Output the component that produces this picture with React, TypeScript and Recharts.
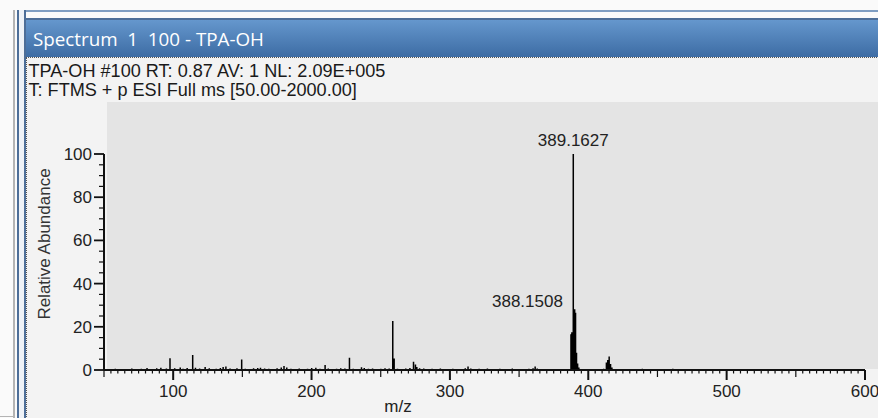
import React from 'react';
import { LineChart, Line, XAxis, YAxis, LabelList } from 'recharts';

const titleText = 'Spectrum  1  100 - TPA-OH';
const headerLines = [
  'TPA-OH #100 RT: 0.87 AV: 1 NL: 2.09E+005',
  'T: FTMS + p ESI Full ms [50.00-2000.00]',
];
const xAxisTitle = 'm/z';
const yAxisTitle = 'Relative Abundance';

const xMajorTicks = [100, 200, 300, 400, 500, 600];
const yMajorTicks = [0, 20, 40, 60, 80, 100];
const labeledPeaks = ['389.1627', '388.1508'];

// m/z of centroid sticks
const peakMz = [
  55.1, 58.2, 62.0, 66.1, 70.1, 74.0, 77.0, 81.1, 84.0, 88.1, 91.1, 95.1, 97.7,
  101.1, 105.1, 107.1, 110.1, 114.1, 116.1, 119.1, 123.1, 126.1, 128.1, 131.1,
  134.1, 136.1, 138.1, 141.1, 144.1, 146.1, 149.5, 152.1, 155.1, 158.1, 161.1,
  163.1, 166.1, 169.1, 173.1, 175.1, 178.1, 180.1, 182.1, 185.1, 188.1, 191.1,
  194.1, 197.1, 200.1, 203.1, 206.1, 209.8, 212.1, 215.1, 218.1, 221.1, 224.1,
  227.4, 230.1, 233.1, 236.1, 238.1, 241.1, 244.1, 247.1, 250.1, 253.1, 256.1,
  258.7, 259.7, 262.1, 265.1, 268.1, 271.1, 273.7, 275.1, 276.1, 278.1, 281.1,
  284.1, 287.1, 290.1, 293.1, 296.1, 299.1, 302.1, 305.1, 308.1, 311.1, 313.1,
  315.1, 318.1, 321.1, 324.1, 327.1, 330.1, 333.1, 336.1, 339.1, 342.1, 345.1,
  348.1, 351.1, 354.1, 357.1, 360.1, 361.6, 363.1, 366.1, 369.1, 372.1, 375.1,
  378.1, 381.1, 384.1, 387.5, 388.1508, 389.1627, 390.16, 390.8, 391.5, 392.3,
  393.2, 396.1, 400.1, 404.1, 406.1, 409.1, 411.1, 413.1, 414.1, 415.1, 416.1,
  417.1, 420.1, 424.1, 429.1, 434.1, 439.1, 441.1, 448.1, 455.1, 461.1, 470.1,
  481.1,
];

// relative abundance (%) of each stick
const peakAbundance = [
  0.4, 0.6, 0.3, 0.5, 0.7, 0.4, 0.6, 0.9, 0.5, 0.8, 1.0, 0.7, 5.4,
  0.8, 1.2, 0.6, 0.9, 6.9, 1.0, 0.7, 1.4, 0.8, 0.5, 0.6,
  0.9, 1.4, 1.6, 0.7, 0.5, 0.8, 4.9, 0.6, 0.5, 0.8, 0.9,
  1.0, 0.7, 0.6, 0.5, 0.8, 1.1, 1.8, 1.2, 0.6, 0.4, 0.7,
  0.5, 0.6, 0.9, 1.0, 0.6, 2.3, 0.7, 0.5, 0.6, 0.8, 0.7,
  5.7, 0.6, 0.5, 1.3, 0.9, 0.6, 0.7, 0.4, 0.6, 0.8, 0.7,
  22.7, 5.3, 0.6, 0.5, 0.7, 0.9, 3.8, 2.6, 1.4, 0.8, 0.7,
  0.5, 0.6, 0.4, 0.7, 0.5, 0.4, 0.6, 0.5, 0.4, 0.8, 1.6,
  0.7, 0.5, 0.6, 0.4, 0.7, 0.5, 0.3, 0.6, 0.4, 0.5, 0.7,
  0.4, 0.5, 0.4, 0.6, 0.8, 1.6, 0.7, 0.5, 0.4, 0.3, 0.5,
  0.4, 0.3, 0.5, 16.5, 17.5, 100, 28.1, 26.5, 8.0, 3.0,
  1.2, 0.3, 0.4, 0.3, 0.5, 0.4, 0.6, 3.5, 4.6, 6.2, 2.8,
  1.1, 0.4, 0.3, 0.4, 0.3, 0.6, 0.5, 0.3, 0.4, 0.6, 0.3,
  0.3,
];

const stickData = peakMz.flatMap((mz, i) => {
  const key = mz.toFixed(4);
  return [
    { mz, ab: 0 },
    { mz, ab: peakAbundance[i], label: labeledPeaks.includes(key) ? key : undefined },
    { mz, ab: 0 },
  ];
});

const xTicks: number[] = [];
for (let v = 50; v <= 600; v += 5) xTicks.push(v);
const yTicks: number[] = [];
for (let v = 0; v <= 100; v += 5) yTicks.push(v);

const FONT = '"Liberation Sans", Arial, sans-serif';

const XTick = (props: any) => {
  const { x, y, payload } = props;
  const v = payload.value;
  const major = xMajorTicks.includes(v);
  const mid = !major && v % 50 === 0;
  const len = major ? 10 : mid ? 7 : 3.5;
  return (
    <g>
      <line x1={x} x2={x} y1={y} y2={y + len} stroke="#111" strokeWidth={major ? 2 : 1.2} />
      {major && (
        <text x={x} y={y + 26.5} textAnchor="middle" fontSize={17} fill="#222" fontFamily={FONT}>
          {v}
        </text>
      )}
    </g>
  );
};

const YTick = (props: any) => {
  const { x, y, payload } = props;
  const v = payload.value;
  const major = yMajorTicks.includes(v);
  const len = major ? 10 : 5;
  return (
    <g>
      <line x1={x - len} x2={x} y1={y} y2={y} stroke="#111" strokeWidth={major ? 1.8 : 1.2} />
      {major && (
        <text x={x - 12} y={y + 6} textAnchor="end" fontSize={17} fill="#222" fontFamily={FONT}>
          {v}
        </text>
      )}
    </g>
  );
};

const labelStyles: Record<string, { anchor: string; dx: number; dy: number }> = {
  '389.1627': { anchor: 'middle', dx: 0, dy: -8.5 },
  '388.1508': { anchor: 'end', dx: -9, dy: -25.5 },
};

const PeakLabel = (props: any) => {
  const { x, y, value } = props;
  if (!value) return null;
  const s = labelStyles[value] || { anchor: 'middle', dx: 0, dy: -8 };
  return (
    <text x={x + s.dx} y={y + s.dy} textAnchor={s.anchor as any} fontSize={17} fill="#222" fontFamily={FONT}>
      {value}
    </text>
  );
};

const abs = (o: React.CSSProperties): React.CSSProperties => ({ position: 'absolute', ...o });

export default function App() {
  return (
    <div style={abs({ position: 'fixed', left: 0, top: 0, width: 878, height: 418, overflow: 'hidden', background: '#fafafa' })}>
      {/* frame lines */}
      <div style={abs({ left: 25, top: 10, width: 853, height: 2, background: '#7f9dc1' })} />
      <div style={abs({ left: 25, top: 18, width: 853, height: 2, background: '#4d6e98' })} />
      <div style={abs({ left: 13, top: 10, width: 2, height: 408, background: '#b4b4b4' })} />
      <div style={abs({ left: 19, top: 10, width: 5, height: 408, background: '#eef2f7' })} />
      <div style={abs({ left: 17, top: 10, width: 2, height: 408, background: '#4d6e98' })} />
      <div style={abs({ left: 24, top: 10, width: 2, height: 408, background: '#4d6e98' })} />
      <div style={abs({ left: 0, top: 416, width: 14, height: 1, background: '#b4b4b4' })} />
      {/* title bar */}
      <div style={abs({ left: 26, top: 20, width: 852, height: 37, background: 'linear-gradient(#6597cd, #3d6ca4)' })} />
      <div
        style={abs({
          left: 33,
          top: 26,
          color: '#ffffff',
          fontFamily: '"Open Sans", "Noto Sans", sans-serif',
          fontSize: 18.8,
          lineHeight: '26px',
          whiteSpace: 'pre',
        })}
      >
        {titleText}
      </div>
      {/* panel */}
      <div style={abs({ left: 26, top: 57, width: 852, height: 361, background: '#f3f3f3', borderTop: '1px dotted #555', borderLeft: '1px dotted #555' })} />
      {headerLines.map((t, i) => (
        <div
          key={i}
          style={abs({
            left: 28.5,
            top: 62 + i * 19,
            fontFamily: FONT,
            fontSize: 18.1,
            lineHeight: '18px',
            color: '#1a1a1a',
            whiteSpace: 'pre',
          })}
        >
          {t}
        </div>
      ))}
      {/* plot background */}
      <div style={abs({ left: 107, top: 102, width: 771, height: 267, background: '#e4e4e4' })} />
      <div style={abs({ left: 0, top: 0 })}>
        <LineChart width={878} height={418} data={stickData} margin={{ top: 154, right: 13, bottom: 18, left: 44 }}>
          <XAxis
            dataKey="mz"
            type="number"
            domain={[50, 600]}
            ticks={xTicks}
            interval={0}
            tickSize={0}
            tickMargin={0}
            tick={<XTick />}
            height={30}
            axisLine={{ stroke: '#111', strokeWidth: 2 }}
            tickLine={false}
            allowDataOverflow
            label={{
              content: (p: any) => {
                const vb = p.viewBox || {};
                return (
                  <text x={vb.x + 294} y={411.5} textAnchor="middle" fontSize={17} fill="#222" fontFamily={FONT}>
                    {xAxisTitle}
                  </text>
                );
              },
            }}
          />
          <YAxis
            type="number"
            domain={[0, 100]}
            ticks={yTicks}
            interval={0}
            tickSize={0}
            tickMargin={0}
            tick={<YTick />}
            width={60}
            axisLine={{ stroke: '#111', strokeWidth: 2 }}
            tickLine={false}
            label={{
              content: (p: any) => {
                const vb = p.viewBox || {};
                const cx = vb.x + 6;
                const cy = vb.y + 90;
                return (
                  <text
                    x={cx}
                    y={cy}
                    transform={`rotate(-90 ${cx} ${cy})`}
                    textAnchor="middle"
                    fontSize={17}
                    fill="#333"
                    fontFamily={FONT}
                  >
                    {yAxisTitle}
                  </text>
                );
              },
            }}
          />
          <Line
            dataKey="ab"
            type="linear"
            stroke="#000"
            strokeWidth={1.5}
            dot={false}
            activeDot={false}
            isAnimationActive={false}
          >
            <LabelList dataKey="label" content={<PeakLabel />} />
          </Line>
        </LineChart>
      </div>
    </div>
  );
}
